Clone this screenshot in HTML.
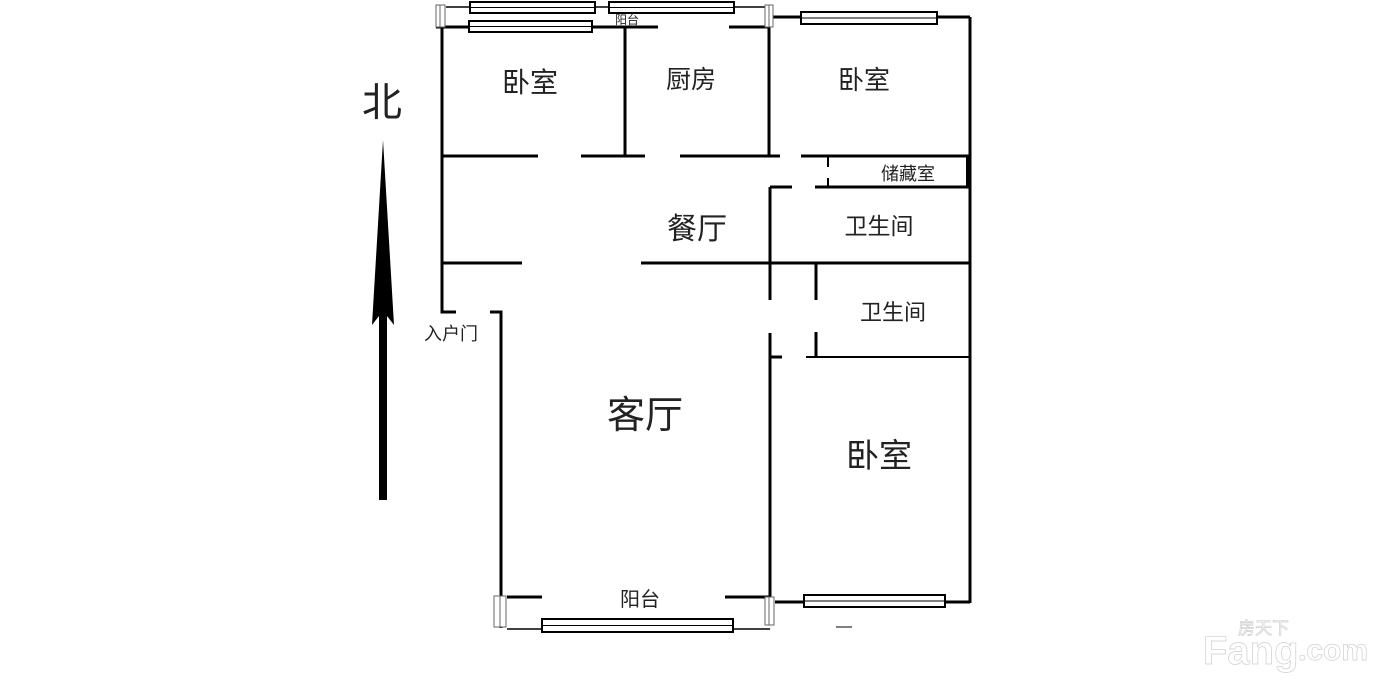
<!DOCTYPE html>
<html><head><meta charset="utf-8"><style>
html,body{margin:0;padding:0;background:#fff;width:1400px;height:685px;overflow:hidden}
svg{display:block}
text{font-family:"Liberation Sans","Noto Sans CJK SC",sans-serif;fill:#222}
</style></head><body>
<svg width="1400" height="685" viewBox="0 0 1400 685" xmlns="http://www.w3.org/2000/svg">
<g stroke="#000" fill="none" stroke-width="3">
<line x1="446" y1="7" x2="765" y2="7" stroke-width="1.5"/>
<line x1="436" y1="27" x2="658" y2="27"/>
<line x1="729" y1="27" x2="768" y2="27"/>
<polyline points="442,27 442,312 456,312"/>
<polyline points="490,312 501,312 501,628"/>
<line x1="625" y1="27" x2="625" y2="156"/>
<line x1="769" y1="15" x2="769" y2="156"/>
<line x1="773" y1="17" x2="970" y2="17"/>
<line x1="970" y1="17" x2="970" y2="603"/>
<line x1="442" y1="156" x2="538" y2="156"/>
<line x1="581" y1="156" x2="645" y2="156"/>
<line x1="680" y1="156" x2="780" y2="156"/>
<line x1="801" y1="156" x2="970" y2="156"/>
<line x1="828" y1="156" x2="828" y2="167" stroke-width="2"/>
<line x1="828" y1="178" x2="828" y2="187" stroke-width="2"/>
<line x1="968" y1="156" x2="968" y2="187" stroke-width="4"/>
<line x1="770" y1="187" x2="792" y2="187"/>
<line x1="815" y1="187" x2="970" y2="187"/>
<line x1="770" y1="187" x2="770" y2="300"/>
<line x1="770" y1="333" x2="770" y2="600"/>
<line x1="442" y1="263" x2="522" y2="263"/>
<line x1="641" y1="263" x2="970" y2="263"/>
<line x1="816" y1="263" x2="816" y2="300"/>
<line x1="816" y1="332" x2="816" y2="357"/>
<line x1="771" y1="357" x2="782" y2="357"/>
<line x1="806" y1="357" x2="970" y2="357" stroke-width="2"/>
<line x1="775" y1="602" x2="970" y2="602"/>
<line x1="507" y1="597" x2="542" y2="597"/>
<line x1="725" y1="597" x2="770" y2="597"/>
<line x1="507" y1="629" x2="770" y2="629" stroke-width="1.5"/>
<line x1="836" y1="627" x2="852" y2="627" stroke-width="1"/>
</g>
<g stroke="#000" fill="#fff" stroke-width="2">
<rect x="470" y="2" width="125" height="11"/>
<line x1="470" y1="7.5" x2="595" y2="7.5" stroke-width="1"/>
<rect x="609" y="2" width="125" height="11"/>
<line x1="609" y1="7.5" x2="734" y2="7.5" stroke-width="1"/>
<rect x="469" y="21" width="123" height="11"/>
<line x1="469" y1="26.5" x2="592" y2="26.5" stroke-width="1"/>
<rect x="801" y="12" width="136" height="12"/>
<line x1="801" y1="18" x2="937" y2="18" stroke-width="1"/>
<rect x="804" y="595" width="141" height="12"/>
<line x1="804" y1="601" x2="945" y2="601" stroke-width="1"/>
<rect x="542" y="619" width="191" height="13"/>
<line x1="542" y1="625.5" x2="733" y2="625.5" stroke-width="1"/>
</g>
<g stroke="#666" fill="#fff" stroke-width="1">
<rect x="436" y="5" width="9" height="22"/><line x1="440" y1="5" x2="440" y2="27"/>
<rect x="765" y="5" width="8" height="22"/><line x1="769" y1="5" x2="769" y2="27"/>
<rect x="494" y="596" width="12" height="31"/><line x1="500" y1="596" x2="500" y2="627"/>
<rect x="765" y="597" width="9" height="28"/><line x1="769" y1="597" x2="769" y2="625"/>
</g>
<polygon points="383,140 394,325 387,316 387,500 379,500 379,316 372,325" fill="#000"/>
<text x="382" y="116" font-size="40" text-anchor="middle">北</text>
<text x="615" y="24" font-size="12">阳台</text>
<text x="530" y="92" font-size="28" text-anchor="middle">卧室</text>
<text x="691" y="88" font-size="25" text-anchor="middle">厨房</text>
<text x="864" y="89" font-size="26" text-anchor="middle">卧室</text>
<text x="908" y="180" font-size="18" text-anchor="middle">储藏室</text>
<text x="697" y="239" font-size="30" text-anchor="middle">餐厅</text>
<text x="879" y="234" font-size="23" text-anchor="middle">卫生间</text>
<text x="893" y="320" font-size="22" text-anchor="middle">卫生间</text>
<text x="451" y="340" font-size="18" text-anchor="middle">入户门</text>
<text x="645" y="428" font-size="38" text-anchor="middle">客厅</text>
<text x="879" y="467" font-size="33" text-anchor="middle">卧室</text>
<text x="640" y="606" font-size="20" text-anchor="middle">阳台</text>
<g style="fill:#fff" stroke="#cfcfcf" stroke-width="0.7">
<text x="1238" y="634" font-size="17" style="fill:#fff">房天下</text>
<text x="1203" y="664" font-size="40" font-weight="bold" style="fill:#fff">Fang</text>
<text x="1298" y="660" font-size="30" font-weight="bold" style="fill:#fff">.com</text>
</g>
</svg>
</body></html>
